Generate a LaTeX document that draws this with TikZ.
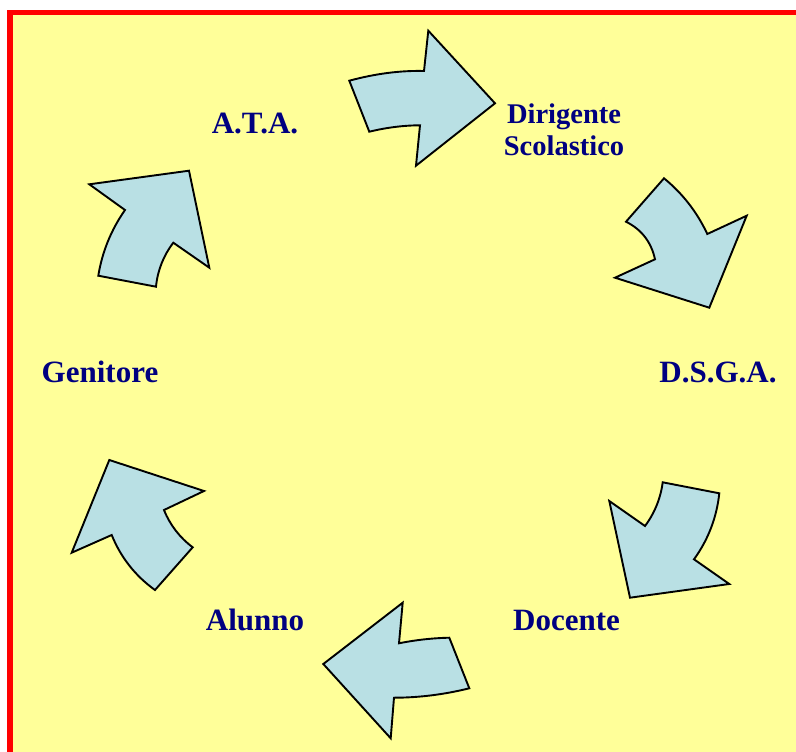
\documentclass[tikz,border=0pt]{standalone}
\usepackage{fontspec}
\setmainfont{Liberation Serif}
\definecolor{bgyellow}{RGB}{255,255,153}
\definecolor{arrowblue}{RGB}{185,224,228}
\definecolor{navy}{RGB}{0,0,128}
\definecolor{borderred}{RGB}{255,0,0}
\tikzset{
  arr/.style={fill=arrowblue, draw=black, line width=1.9pt, line join=miter},
  lbl/.style={text=navy, inner sep=0pt, font=\bfseries\fontsize{31}{35}\selectfont},
  lblsmall/.style={text=navy, inner sep=0pt, align=center, font=\bfseries\fontsize{28.5}{32}\selectfont}
}
\begin{document}
\begin{tikzpicture}[x=1pt,y=-1pt]
\useasboundingbox (0,0) rectangle (796,752);
\fill[white] (0,0) rectangle (796,752);
\fill[bgyellow] (7,10) rectangle (796,752);
\fill[borderred] (7,10) rectangle (796,15.5);
\fill[borderred] (7,10) rectangle (13,752);

% labels
\node[lbl, anchor=base] (ata) at (255,133) {A.T.A.};
\node[lblsmall, anchor=base] (ds) at (564,155) {Dirigente\\Scolastico};
\node[lbl, anchor=base] (dsga) at (718,382) {D.S.G.A.};
\node[lbl, anchor=base] (gen) at (100,382) {Genitore};
\node[lbl, anchor=base] (doc) at (566.5,630) {Docente};
\node[lbl, anchor=base] (alu) at (255,630) {Alunno};

% arrows
\draw[arr] (420,125.3) .. controls (403.1,125.4) and (386.2,127.6) .. (369.3,131.7) -- (349.3,80.7)
  .. controls (375.6,73.6) and (400.5,70.4) .. (424,71) -- (428.3,30.7) -- (495,103.3) -- (416,165.7) -- cycle;
\draw[arr] (626,221.7) .. controls (641.7,229.6) and (651.3,242.2) .. (655,259.3) -- (615,277.7) -- (709.3,307.7)
  -- (746.7,215.7) -- (707.3,234) .. controls (697.1,212.2) and (682.7,193.6) .. (664,178.3) -- cycle;
\draw[arr] (645,526) .. controls (654.7,513) and (660.6,498.4) .. (662.7,482.3) -- (719.3,493.3)
  .. controls (716.7,517.5) and (708.3,539.5) .. (694,559.3) -- (729.3,584) -- (630,597.7) -- (609.3,501) -- cycle;
\draw[arr] (449.3,637.7) .. controls (432.5,638.1) and (415.8,639.9) .. (399,643.3) -- (402.7,602.7) -- (323.3,664)
  -- (390.7,738.3) -- (394,697.7) .. controls (419.1,697.7) and (444.2,694.5) .. (469.3,688.3) -- cycle;
\draw[arr] (164,510) .. controls (170.1,525.1) and (179.7,537.5) .. (192.7,547.3) -- (155,590)
  .. controls (135.2,575.8) and (120.8,557.4) .. (111.7,535) -- (71.7,552.7) -- (109.3,460) -- (204,491) -- cycle;
\draw[arr] (173.3,242.7) .. controls (163.4,255.8) and (157.6,270.4) .. (156,286.7) -- (98.3,275.7)
  .. controls (102.2,251.8) and (111.1,229.9) .. (125,210) -- (89.3,184.3) -- (189,170.7) -- (209.3,267.7) -- cycle;
\end{tikzpicture}
\end{document}
